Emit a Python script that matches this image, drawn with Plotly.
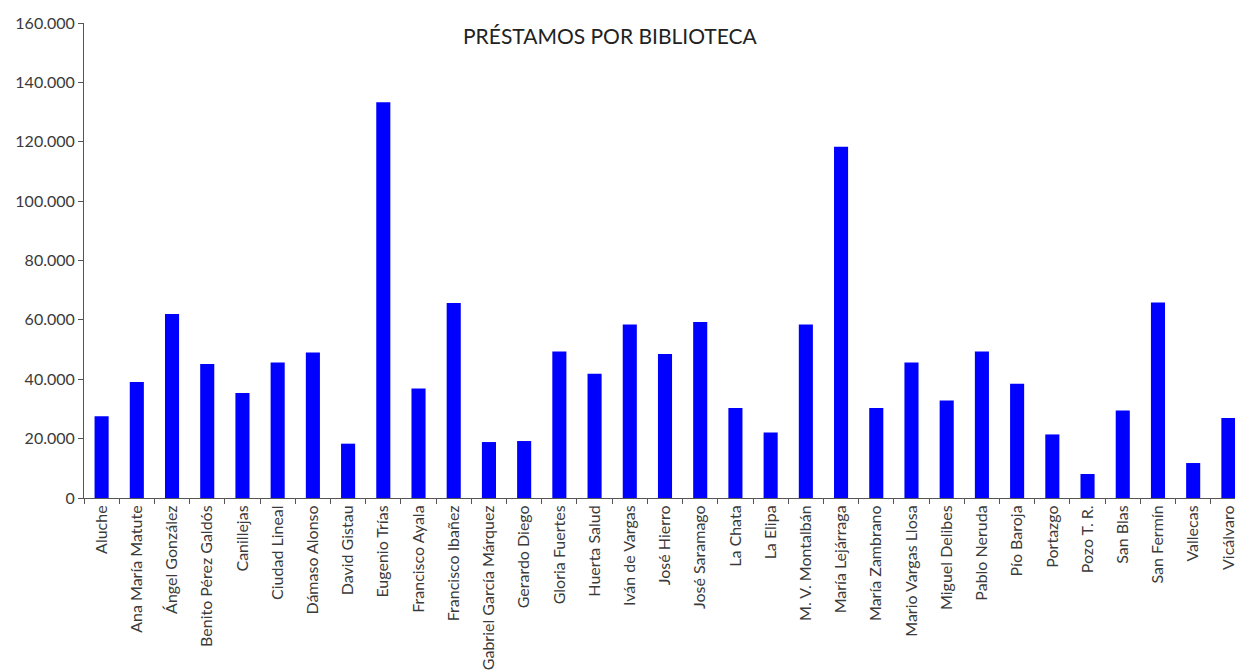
import plotly.graph_objects as go

categories = [
    "Aluche", "Ana María Matute", "Ángel González", "Benito Pérez Galdós", "Canillejas",
    "Ciudad Lineal", "Dámaso Alonso", "David Gistau", "Eugenio Trías", "Francisco Ayala",
    "Francisco Ibañez", "Gabriel García Márquez", "Gerardo Diego", "Gloria Fuertes",
    "Huerta Salud", "Iván de Vargas", "José Hierro", "José Saramago", "La Chata", "La Elipa",
    "M. V. Montalbán", "María Lejárraga", "María Zambrano", "Mario Vargas Llosa",
    "Miguel Delibes", "Pablo Neruda", "Pío Baroja", "Portazgo", "Pozo T. R.", "San Blas",
    "San Fermín", "Vallecas", "Vicálvaro",
]
prestamos = [
    27500, 39060, 61950, 45100, 35350,
    45650, 49000, 18300, 133300, 36900,
    65650, 18850, 19190, 49360,
    41850, 58450, 48480, 59260, 30300, 22090,
    58450, 118280, 30300, 45660,
    32860, 49360, 38490, 21410, 8080, 29500,
    65860, 11780, 26940,
]
y_ticks = [0, 20000, 40000, 60000, 80000, 100000, 120000, 140000, 160000]
title_text = "PRÉSTAMOS POR BIBLIOTECA"

# the page body adds an 8px margin; figure coordinates are offset by it
OFF = 8
W, H = 1246 - OFF, 670 - OFF
ML, MR, MT, MB = 84 - OFF, 0, 23 - OFF, H - (498 - OFF)

fig = go.Figure(go.Bar(
    x=categories, y=prestamos,
    marker=dict(color="#0000FF", line=dict(width=0)),
    width=0.4,
))

plot_w = W - ML - MR
plot_h = H - MT - MB
fig.update_layout(
    width=W, height=H,
    margin=dict(l=ML, r=MR, t=MT, b=MB, autoexpand=False),
    paper_bgcolor="white", plot_bgcolor="white",
    separators=",.",
    font=dict(family="Lato", size=16, color="#3a3a3a"),
    showlegend=False,
    annotations=[dict(
        text=title_text, xref="paper", yref="paper",
        x=(610 - OFF - ML) / plot_w, y=1 - (35 - OFF - MT) / plot_h,
        xanchor="center", yanchor="middle", showarrow=False,
        font=dict(family="Lato", size=21, color="#222222"),
    )],
)

fig.update_xaxes(
    type="category", tickangle=-90, tickson="boundaries",
    ticks="outside", ticklen=5, tickcolor="#555555",
    showline=True, linecolor="#555555", linewidth=1,
    showgrid=False, tickfont=dict(size=16, color="#3a3a3a"),
    range=[-0.5, len(categories) - 0.5],
)
fig.update_yaxes(
    range=[0, 160000], tickvals=y_ticks, tickformat=",d",
    ticks="outside", ticklen=5, tickcolor="#555555",
    showline=True, linecolor="#555555", linewidth=1,
    showgrid=False, zeroline=False, tickfont=dict(size=16, color="#3a3a3a"),
)

fig.write_html("out.html")
